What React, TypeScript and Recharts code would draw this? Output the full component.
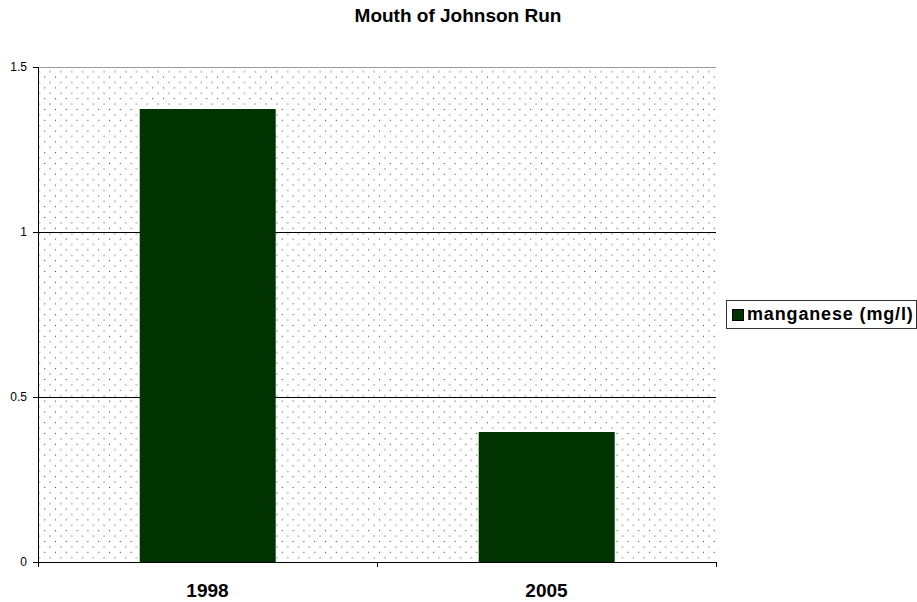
import React from "react";
import {
  BarChart,
  Bar,
  XAxis,
  YAxis,
  CartesianGrid,
  Legend,
  ReferenceLine,
} from "recharts";

// Manganese readings at the mouth of Johnson Run
const years = ["1998", "2005"];
const manganese = [1.373, 0.394];
const yTicks = [0, 0.5, 1, 1.5];
const seriesName = "manganese (mg/l)";
const title = "Mouth of Johnson Run";

// each year sits in the middle of a unit-wide slot on a numeric x axis
const data = years.map((year, i) => ({ year, idx: i + 0.5, value: manganese[i] }));
const xTicks = [0, 0.5, 1, 1.5, 2];

const FONT = "'Liberation Sans', Arial, sans-serif";
const BAR_COLOR = "#003300";

const LegendBox = () => (
  <div
    style={{
      border: "1px solid #333",
      background: "#fff",
      height: 29,
      boxSizing: "border-box",
      display: "flex",
      alignItems: "center",
      paddingLeft: 5,
      fontFamily: FONT,
      fontWeight: "bold",
      fontSize: 18,
      letterSpacing: 0.85,
      color: "#000",
      whiteSpace: "nowrap",
    }}
  >
    <span
      style={{
        display: "inline-block",
        width: 10,
        height: 10,
        background: BAR_COLOR,
        border: "1px solid #000",
        marginRight: 3,
        flex: "none",
      }}
    />
    {seriesName}
  </div>
);

// slot boundaries get a short tick mark, slot centres get the year label
const YearTick = (props: any) => {
  const { x, y, payload } = props;
  const v = payload.value as number;
  if (Number.isInteger(v)) {
    return <line x1={x} x2={x} y1={y} y2={y + 5} stroke="#000" shapeRendering="crispEdges" />;
  }
  return (
    <text
      x={x}
      y={y + 35}
      textAnchor="middle"
      fontFamily={FONT}
      fontWeight="bold"
      fontSize={19}
      fill="#000"
    >
      {years[Math.floor(v)]}
    </text>
  );
};

export default function App() {
  return (
    <div style={{ position: "absolute", left: 0, top: 0, width: 917, height: 602, background: "#fff" }}>
      <BarChart
        width={917}
        height={602}
        data={data}
        margin={{ top: 67, right: 201, bottom: 0, left: 0 }}
        barCategoryGap="30%"
      >
        <defs>
          <pattern id="dots" x="0" y="0" width="10.8" height="10.8" patternUnits="userSpaceOnUse">
            <rect x="0" y="0" width="10.8" height="10.8" fill="#fff" />
            <rect x="1" y="1" width="1" height="1" fill="#333" />
            <rect x="6.4" y="6.4" width="1" height="1" fill="#333" />
          </pattern>
        </defs>
        <CartesianGrid
          vertical={false}
          stroke="#000"
          strokeWidth={1}
          shapeRendering="crispEdges"
          fill="url(#dots)"
          fillOpacity={1}
        />
        <ReferenceLine
          y={1.5}
          stroke="#999"
          strokeWidth={1}
          shapeRendering="crispEdges"
          ifOverflow="visible"
        />
        <XAxis
          type="number"
          dataKey="idx"
          domain={[0, 2]}
          ticks={xTicks}
          interval={0}
          height={40}
          axisLine={{ stroke: "#000", shapeRendering: "crispEdges" }}
          tickLine={false}
          tickSize={0}
          tickMargin={0}
          tick={<YearTick />}
        />
        <YAxis
          width={38}
          domain={[0, 1.5]}
          ticks={yTicks}
          axisLine={{ stroke: "#000", shapeRendering: "crispEdges" }}
          tickLine={{ stroke: "#000", shapeRendering: "crispEdges" }}
          tickSize={5}
          tickMargin={6}
          tick={{ fontFamily: FONT, fontSize: 12, fill: "#000" }}
        />
        <Legend
          layout="horizontal"
          verticalAlign="middle"
          align="center"
          content={<LegendBox />}
          wrapperStyle={{ left: 726, top: 300, width: 191, right: "auto", bottom: "auto" }}
        />
        <Bar dataKey="value" name={seriesName} fill={BAR_COLOR} isAnimationActive={false} />
      </BarChart>
      <svg
        width={917}
        height={40}
        style={{ position: "absolute", left: 0, top: 0, pointerEvents: "none" }}
      >
        <text
          x={458}
          y={22}
          textAnchor="middle"
          fontFamily={FONT}
          fontWeight="bold"
          fontSize={19}
          fill="#000"
        >
          {title}
        </text>
      </svg>
    </div>
  );
}
